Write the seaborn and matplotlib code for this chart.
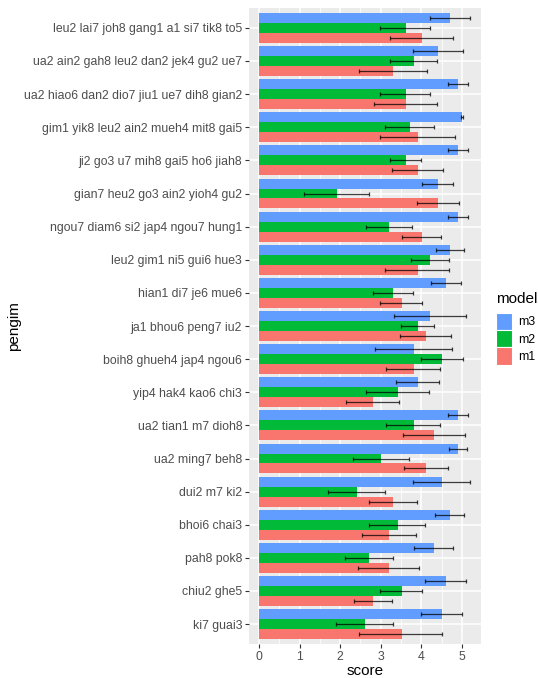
import matplotlib
matplotlib.use("Agg")
import matplotlib.pyplot as plt
import seaborn as sns
import pandas as pd
import numpy as np
from matplotlib.patches import Patch
from matplotlib.ticker import MultipleLocator

categories = [
    "leu2 lai7 joh8 gang1 a1 si7 tik8 to5",
    "ua2 ain2 gah8 leu2 dan2 jek4 gu2 ue7",
    "ua2 hiao6 dan2 dio7 jiu1 ue7 dih8 gian2",
    "gim1 yik8 leu2 ain2 mueh4 mit8 gai5",
    "ji2 go3 u7 mih8 gai5 ho6 jiah8",
    "gian7 heu2 go3 ain2 yioh4 gu2",
    "ngou7 diam6 si2 jap4 ngou7 hung1",
    "leu2 gim1 ni5 gui6 hue3",
    "hian1 di7 je6 mue6",
    "ja1 bhou6 peng7 iu2",
    "boih8 ghueh4 jap4 ngou6",
    "yip4 hak4 kao6 chi3",
    "ua2 tian1 m7 dioh8",
    "ua2 ming7 beh8",
    "dui2 m7 ki2",
    "bhoi6 chai3",
    "pah8 pok8",
    "chiu2 ghe5",
    "ki7 guai3",
]
models = ["m3", "m2", "m1"]

m3_score = [4.70, 4.41, 4.90, 5.00, 4.90, 4.41, 4.90, 4.70, 4.61, 4.21, 3.82, 3.92, 4.90, 4.90, 4.51, 4.70, 4.31, 4.61, 4.51]
m3_lo    = [4.22, 3.80, 4.66, 4.98, 4.66, 4.02, 4.66, 4.35, 4.23, 3.32, 2.86, 3.37, 4.66, 4.67, 3.80, 4.34, 3.81, 4.10, 4.00]
m3_hi    = [5.19, 5.02, 5.14, 5.02, 5.14, 4.78, 5.14, 5.06, 4.98, 5.09, 4.75, 4.44, 5.14, 5.13, 5.21, 5.06, 4.79, 5.11, 5.01]

m2_score = [3.61, 3.82, 3.61, 3.72, 3.61, 1.92, 3.20, 4.21, 3.30, 3.92, 4.51, 3.42, 3.82, 3.00, 2.41, 3.42, 2.71, 3.52, 2.61]
m2_lo    = [2.99, 3.23, 2.99, 3.11, 3.23, 1.12, 2.64, 3.75, 2.82, 3.49, 4.00, 2.63, 3.14, 2.32, 1.70, 2.70, 2.11, 2.99, 1.90]
m2_hi    = [4.22, 4.38, 4.22, 4.30, 3.98, 2.70, 3.78, 4.67, 3.79, 4.32, 5.02, 4.18, 4.47, 3.69, 3.10, 4.10, 3.29, 4.01, 3.31]

m1_score = [4.01, 3.30, 3.61, 3.92, 3.92, 4.41, 4.01, 3.92, 3.52, 4.11, 3.82, 2.81, 4.31, 4.11, 3.30, 3.20, 3.20, 2.81, 3.52]
m1_lo    = [3.24, 2.47, 2.83, 2.98, 3.28, 3.90, 3.52, 3.11, 2.99, 3.47, 3.14, 2.14, 3.54, 3.57, 2.71, 2.55, 2.45, 2.35, 2.47]
m1_hi    = [4.77, 4.15, 4.38, 4.84, 4.54, 4.92, 4.48, 4.69, 4.01, 4.74, 4.47, 3.46, 5.07, 4.65, 3.89, 3.87, 3.95, 3.27, 4.52]

colors = {"m3": "#619CFF", "m2": "#00BA38", "m1": "#F8766D"}

scores = {"m3": m3_score, "m2": m2_score, "m1": m1_score}
lows = {"m3": m3_lo, "m2": m2_lo, "m1": m1_lo}
highs = {"m3": m3_hi, "m2": m2_hi, "m1": m1_hi}

rows = []
for m in models:
    for c, s, lo, hi in zip(categories, scores[m], lows[m], highs[m]):
        rows.append({"pengim": c, "model": m, "score": s, "lo": lo, "hi": hi})
df = pd.DataFrame(rows)

plt.rcParams["font.family"] = ["Liberation Sans", "DejaVu Sans"]

DPI = 100
fig = plt.figure(figsize=(538 / DPI, 678 / DPI), dpi=DPI)
ax = fig.add_axes([249 / 538, 1 - 644 / 678, (481 - 249) / 538, (644 - 8) / 678])
ax.set_facecolor("#EBEBEB")

sns.barplot(data=df, y="pengim", x="score", hue="model", order=categories,
            hue_order=models, palette=colors, orient="h", width=0.9,
            errorbar=None, saturation=1, ax=ax, legend=False, linewidth=0)

for m, cont in zip(models, ax.containers):
    sub = df[df.model == m].set_index("pengim").loc[categories]
    ys = [p.get_y() + p.get_height() / 2 for p in cont.patches]
    xs = sub["score"].values
    xerr = np.vstack([xs - sub["lo"].values, sub["hi"].values - xs])
    ax.errorbar(xs, ys, xerr=xerr, fmt="none", ecolor="black", alpha=0.75,
                elinewidth=0.9, capsize=1.2, capthick=0.9, zorder=5)

ax.set_xlim(-0.246, 5.47)
ax.set_ylim(len(categories) - 1 + 0.6, -0.6)
ax.xaxis.set_major_locator(MultipleLocator(1))
ax.xaxis.set_minor_locator(MultipleLocator(0.5))
ax.grid(which="major", color="white", linewidth=1.1)
ax.grid(which="minor", axis="x", color="white", linewidth=0.55)
ax.set_axisbelow(True)
for s in ax.spines.values():
    s.set_visible(False)
ax.tick_params(axis="both", which="major", length=2.75, width=0.8, color="#333333",
               labelsize=8.8, labelcolor="#4D4D4D", pad=2.2)
ax.tick_params(axis="x", which="minor", length=0)
ax.set_xlabel("score", fontsize=11, color="black", labelpad=0.5)
ax.set_ylabel("pengim", fontsize=11, color="black", labelpad=2.0)

handles = [Patch(facecolor=colors[m], edgecolor="white", linewidth=0.8, label=m) for m in models]
leg = fig.legend(handles=handles, title="model", loc="upper left",
                 bbox_to_anchor=(494 / 538, 1 - 290 / 678), frameon=False,
                 fontsize=8.8, title_fontsize=11, handlelength=1.3, handleheight=1.8,
                 labelspacing=0.0, handletextpad=0.5, borderaxespad=0, borderpad=0.2)
leg._legend_box.align = "left"
leg._legend_box.sep = 4.5

fig.savefig("out.png", dpi=DPI)
